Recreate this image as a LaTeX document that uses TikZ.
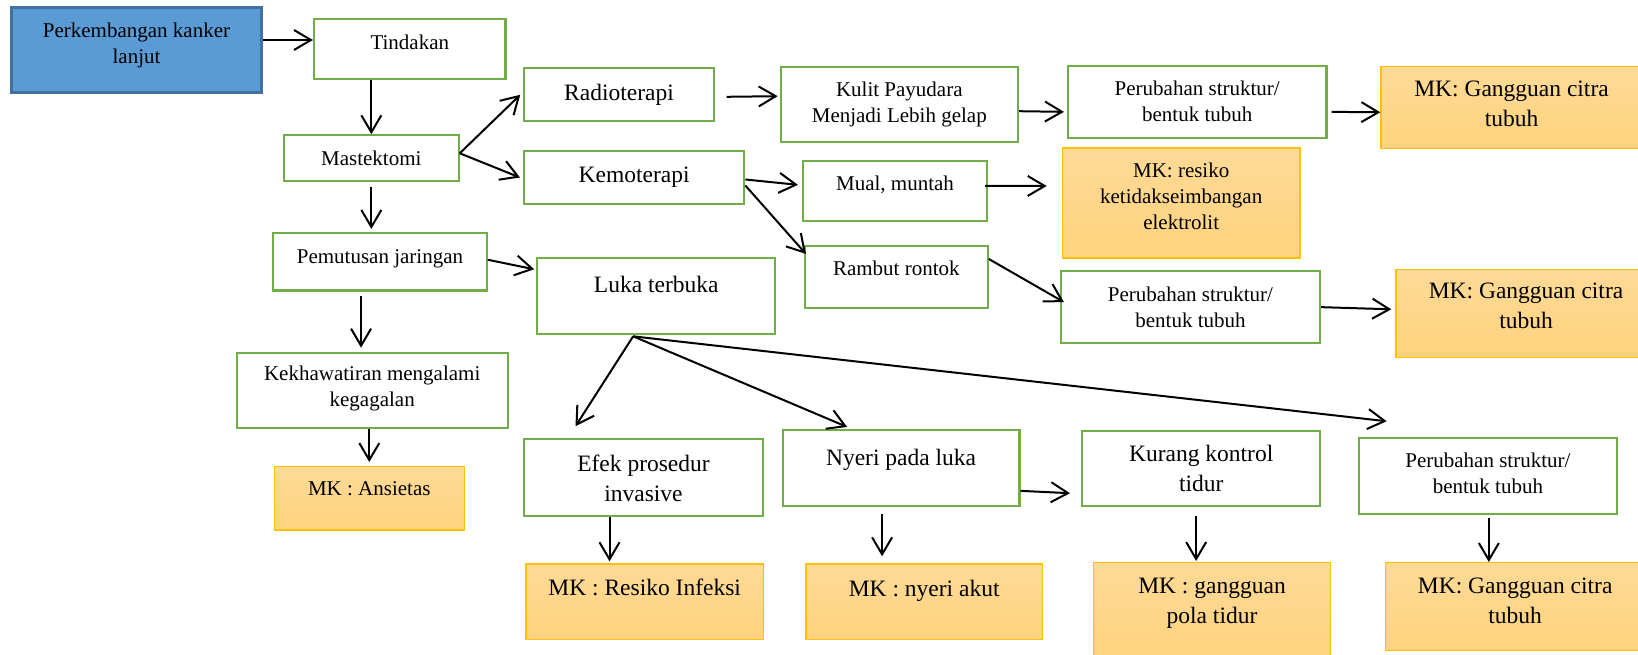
\documentclass[tikz,border=0pt]{standalone}
\usepackage{fontspec}
\setmainfont{Liberation Serif}
\usepackage{tikz}
\usetikzlibrary{calc}
\usetikzlibrary{arrows.meta, fit}

\definecolor{boxgreen}{HTML}{70AD47}
\definecolor{mkedge}{HTML}{FFC000}
\definecolor{mktop}{HTML}{FFDA97}
\definecolor{mkbot}{HTML}{FFD27D}
\definecolor{startfill}{HTML}{5B9BD5}
\definecolor{startedge}{HTML}{41719C}

\tikzset{
  gbox/.style={draw=boxgreen, line width=2.1pt, fill=white, inner sep=0pt},
  mkbox/.style={draw=mkedge, line width=1.4pt, top color=mktop, bottom color=mkbot, inner sep=0pt},
  startbox/.style={draw=startedge, line width=2.6pt, fill=startfill, inner sep=0pt},
  txt/.style={font=\fontsize{21}{26}\selectfont, align=center, inner sep=0pt},
  bigtxt/.style={font=\fontsize{23.5}{30}\selectfont, align=center, inner sep=0pt},
  arr/.style={->, line width=2pt},
}

\begin{document}
\begin{tikzpicture}[x=1pt, y=-1pt, >={Straight Barb[length=17pt,width=20pt]}]

\useasboundingbox (0,0) rectangle (1638,655);
\clip (0,0) rectangle (1638,655);

% -------------------------------------------------------
% 1. Left column: start, tindakan, mastektomi
% -------------------------------------------------------
\node[startbox, fit={(11.4,7.3) (261.7,92.7)}] (perk) {};
\node[txt] (perk-t) at (136.5,45.2) {Perkembangan kanker\\lanjut};

\node[gbox, fit={(314,19) (505.5,79)}] (tind) {};
\node[txt] (tind-t) at (409.8,41.9) {Tindakan};

\node[gbox, fit={(284,135.3) (458.7,181.3)}] (mast) {};
\node[txt] (mast-t) at (371.3,158.6) {Mastektomi};

\node[gbox, fit={(273.4,233) (486.7,290.5)}] (pem) {};
\node[txt] (pem-t) at (380,258.5) {Pemutusan jaringan};

\node[gbox, fit={(236.7,352.7) (507.7,427.7)}] (kekh) {};
\node[txt] (kekh-t) at (372.2,388.5) {Kekhawatiran mengalami\\kegagalan};

\node[mkbox, fit={(274.3,466.7) (464.3,530)}] (ans) {};
\node[txt] (ans-t) at (369.3,488.9) {MK : Ansietas};

% -------------------------------------------------------
% 2. Therapies and the wound
% -------------------------------------------------------
\node[gbox, fit={(524.3,68.3) (713.6,121.3)}] (radio) {};
\node[bigtxt] (radio-t) at (619,94.6) {Radioterapi};

\node[gbox, fit={(524,151) (744.3,204)}] (kemo) {};
\node[bigtxt] (kemo-t) at (634.2,177.3) {Kemoterapi};

\node[gbox, fit={(537.3,258.3) (775,334.3)}] (luka) {};
\node[bigtxt] (luka-t) at (656.2,284.7) {Luka terbuka};

\node[gbox, fit={(524.3,439.3) (762.7,516)}] (efek) {};
\node[bigtxt] (efek-t) at (643.5,478.4) {Efek prosedur\\invasive};

\node[mkbox, fit={(526,564) (763.3,639.3)}] (mkinf) {};
\node[bigtxt] (mkinf-t) at (644.7,587.7) {MK : Resiko Infeksi};

% -------------------------------------------------------
% 3. Side effects
% -------------------------------------------------------
\node[gbox, fit={(780.7,66.7) (1018,141.7)}] (kulit) {};
\node[txt] (kulit-t) at (899.3,104.5) {Kulit Payudara\\Menjadi Lebih gelap};

\node[gbox, fit={(803,161) (987,220.7)}] (mual) {};
\node[txt] (mual-t) at (895,185) {Mual, muntah};

\node[gbox, fit={(805,246) (987.7,307.7)}] (ramb) {};
\node[txt] (ramb-t) at (896.3,267.9) {Rambut rontok};

\node[gbox, fit={(782.7,430) (1019.5,505.7)}] (nyeri) {};
\node[bigtxt] (nyeri-t) at (901.1,459.6) {Nyeri pada luka};

\node[mkbox, fit={(806,564) (1042.5,639.3)}] (mknyeri) {};
\node[bigtxt] (mknyeri-t) at (924.2,591.3) {MK : nyeri akut};

% -------------------------------------------------------
% 4. Body image, electrolytes, sleep
% -------------------------------------------------------
\node[gbox, fit={(1068,65.7) (1326.5,138)}] (p1) {};
\node[txt] (p1-t) at (1197.2,101.6) {Perubahan struktur/\\bentuk tubuh};

\node[mkbox, fit={(1062.4,148) (1300,258)}] (mkres) {};
\node[txt] (mkres-t) at (1181.2,196.2) {MK: resiko\\ketidakseimbangan\\elektrolit};

\node[gbox, fit={(1061,271) (1320,343.3)}] (p2) {};
\node[txt] (p2-t) at (1190.5,307) {Perubahan struktur/\\bentuk tubuh};

\node[gbox, fit={(1082,430.7) (1320.3,505.7)}] (kur) {};
\node[bigtxt] (kur-t) at (1201.2,468.7) {Kurang kontrol\\tidur};

\node[mkbox, fit={(1093.7,562.7) (1330.3,662)}] (mkpola) {};
\node[bigtxt] (mkpola-t) at (1212,602.9) {MK : gangguan\\pola tidur};

% -------------------------------------------------------
% 5. Right column
% -------------------------------------------------------
\node[mkbox, fit={(1381,66.3) (1642,148.3)}] (mk1) {};
\node[bigtxt] (mk1-t) at (1511.5,104) {MK: Gangguan citra\\tubuh};

\node[mkbox, fit={(1396,269.3) (1656,357.3)}] (mk2) {};
\node[bigtxt] (mk2-t) at (1526,306.2) {MK: Gangguan citra\\tubuh};

\node[gbox, fit={(1358.7,438.3) (1617,514)}] (p3) {};
\node[txt] (p3-t) at (1487.9,473.2) {Perubahan struktur/\\bentuk tubuh};

\node[mkbox, fit={(1385.3,562.7) (1645,650.7)}] (mk3) {};
\node[bigtxt] (mk3-t) at (1515.2,600.7) {MK: Gangguan citra\\tubuh};

% -------------------------------------------------------
% 6. Arrows
% -------------------------------------------------------
\draw[arr] ([yshift=10pt]perk.east) -- ([yshift=10pt]perk.east -| tind.west);
\draw[arr] (mast.north |- tind.south) -- (mast.north);
\draw[arr] ([yshift=5pt]mast.east) -- ([xshift=-3pt]radio.west);
\draw[arr] ([yshift=5pt]mast.east) -- ([xshift=-3pt]kemo.west);
\draw[arr] ([yshift=-5pt]mast.south) -- ([yshift=3pt]mast.south |- pem.north);
\draw[arr] ([yshift=2pt]pem.east) -- ([xshift=-2pt,yshift=27pt]luka.west);
\draw[arr] ([xshift=-19pt,yshift=-4pt]pem.south) -- ([xshift=-19pt,yshift=4pt]pem.south |- kekh.north);
\draw[arr] (ans.north |- kekh.south) -- ([yshift=4pt]ans.north);

\draw[arr] ([xshift=12pt,yshift=-2pt]radio.east) -- ([xshift=-2pt,yshift=8pt]kulit.west);
\draw[arr] ([yshift=-7pt]kulit.east) -- ([xshift=-3pt,yshift=-10pt]p1.west);
\draw[arr] ([xshift=4pt,yshift=-10pt]p1.east) -- ([yshift=-5pt]mk1.west);
\draw[arr] ([yshift=-2pt]kemo.east) -- ([xshift=-4pt,yshift=6pt]mual.west);
\draw[arr] ([yshift=-8pt]kemo.east) -- ([xshift=2pt,yshift=-9pt]ramb.north west);
\draw[arr] ([xshift=-3pt,yshift=5pt]mual.east) -- ([xshift=-15pt,yshift=17pt]mkres.west);
\draw[arr] ([yshift=-14pt]ramb.north east) -- ([xshift=4pt,yshift=5pt]p2.west);
\draw[arr] (p2.east) -- ([xshift=-4pt,yshift=4pt]mk2.west);

% wound fans out
\coordinate (fan) at ([xshift=-23pt,yshift=-1pt]luka.south);
\draw[arr] (fan) -- ([xshift=-68pt,yshift=12pt]efek.north);
\draw[arr] (fan) -- ([xshift=-54pt,yshift=2pt]nyeri.north);
\draw[arr] (fan) -- ([xshift=29pt,yshift=16pt]p3.north west);

\draw[arr] ([yshift=-23pt]nyeri.east) -- ([xshift=-11pt,yshift=-25pt]kur.west);
\draw[arr] ([xshift=-34pt]efek.south) -- ([xshift=-34pt,yshift=2pt]efek.south |- mkinf.north);
\draw[arr] ([xshift=-19pt,yshift=-7pt]nyeri.south) -- ([xshift=-19pt,yshift=7pt]nyeri.south |- mknyeri.north);
\draw[arr] ([xshift=-5pt,yshift=-9pt]kur.south) -- ([xshift=-5pt,yshift=1pt]kur.south |- mkpola.north);
\draw[arr] ([xshift=1pt,yshift=-3pt]p3.south) -- ([xshift=1pt]p3.south |- mk3.north);

\end{tikzpicture}
\end{document}
